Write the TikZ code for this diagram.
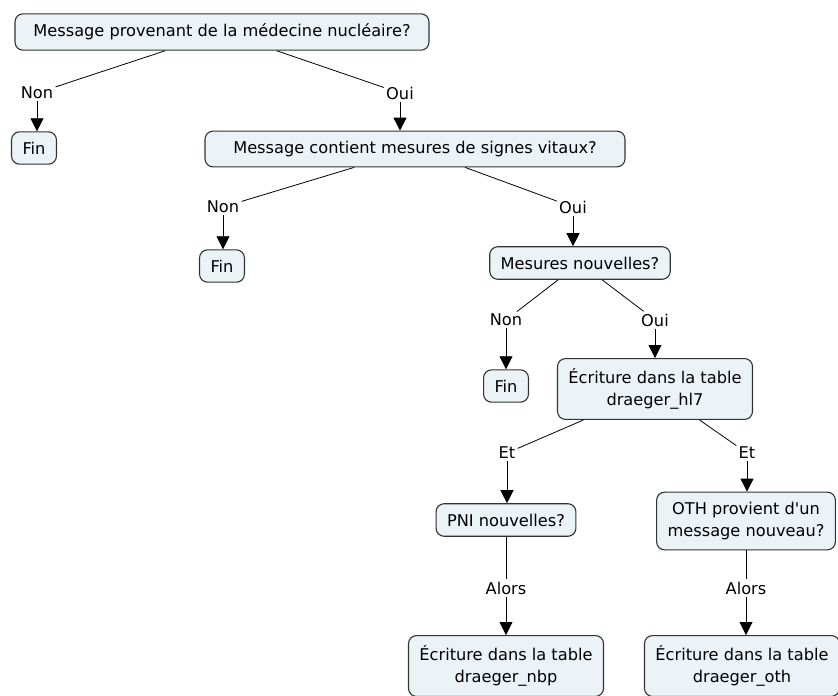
\documentclass[tikz,border=0pt]{standalone}
\usepackage{fontspec}
\setmainfont{DejaVu Sans}
\usetikzlibrary{arrows.meta}
\tikzset{> = {Triangle[width=13pt,length=13pt]}, every picture/.style={line width=0.8pt}}
\definecolor{boxfill}{RGB}{235,243,246}
\definecolor{boxline}{RGB}{51,51,51}

\begin{document}
\begin{tikzpicture}[x=1pt,y=-1pt,font=\fontsize{16.2}{22}\selectfont]
\useasboundingbox (0,0) rectangle (838,696);
\begin{scope}[every node/.style={draw=boxline,fill=boxfill,rounded corners=8pt,line width=1.1pt,align=center,inner xsep=11pt,inner ysep=10pt}]
\node[minimum width=414pt] (Q1) at (222,32) {Message provenant de la médecine nucléaire?};
\node (F1) at (34,148) {Fin};
\node[minimum width=420pt] (Q2) at (415,149) {Message contient mesures de signes vitaux?};
\node (F2) at (222,266) {Fin};
\node (Q3) at (580,263) {Mesures nouvelles?};
\node (F3) at (506,386) {Fin};
\node (W1) at (655,389) {Écriture dans la table\\draeger\_hl7};
\node (Q4) at (506,520) {PNI nouvelles?};
\node (Q5) at (746,521) {OTH provient d\textquotesingle un\\message nouveau?};
\node (W2) at (506,666) {Écriture dans la table\\draeger\_nbp};
\node (W3) at (742,666) {Écriture dans la table\\draeger\_oth};
\end{scope}

\begin{scope}[every node/.style={inner sep=2pt}]
\node (N1) at (37,93) {Non};
\node (O1) at (400,93) {Oui};
\node (N2) at (223,207) {Non};
\node (O2) at (573,207) {Oui};
\node (N3) at (506,320) {Non};
\node (O3) at (655,320) {Oui};
\node (E1) at (507,453) {Et};
\node (E2) at (747,453) {Et};
\node (A1) at (506,588) {Alors};
\node (A2) at (746,588) {Alors};
\end{scope}

\begin{scope}[every edge/.style={draw}]
    \path (Q1) edge (N1) (Q1) edge (O1);
    \path (Q2) edge (N2) (Q2) edge (O2);
    \path (Q3) edge (N3) (Q3) edge (O3);
    \path (W1) edge (E1) (W1) edge (E2);
    \path (Q4) edge (A1) (Q5) edge (A2);
    \path [->] (N1) edge (N1 |- F1.north);
    \path [->] (O1) edge (O1 |- Q2.north);
    \path [->] (N2) edge (N2 |- F2.north);
    \path [->] (O2) edge (O2 |- Q3.north);
    \path [->] (N3) edge (N3 |- F3.north);
    \path [->] (O3) edge (O3 |- W1.north);
    \path [->] (E1) edge (E1 |- Q4.north);
    \path [->] (E2) edge (E2 |- Q5.north);
    \path [->] (A1) edge (A1 |- W2.north);
    \path [->] (A2) edge (A2 |- W3.north);
\end{scope}
\end{tikzpicture}
\end{document}
